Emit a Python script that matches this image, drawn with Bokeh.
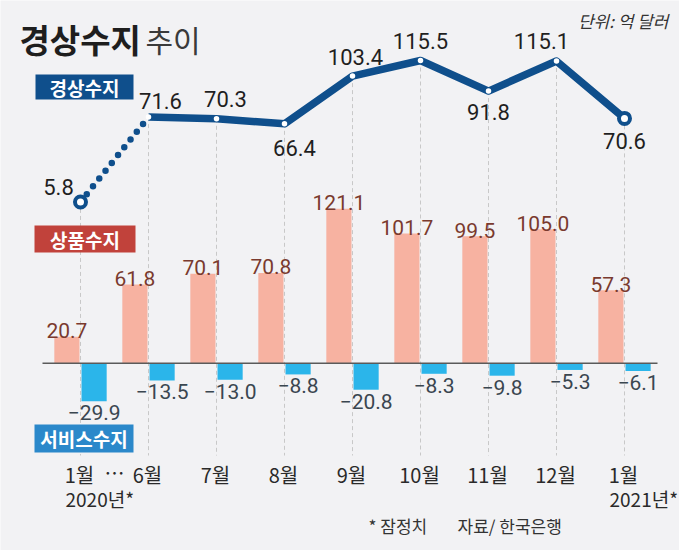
from bokeh.plotting import figure
from bokeh.models import Range1d, ColumnDataSource
from bokeh.core.properties import value
from bokeh.embed import file_html
from bokeh.resources import INLINE

# ---- data ----
months = ["1월", "6월", "7월", "8월", "9월", "10월", "11월", "12월", "1월"]
year_labels = ["2020년*", "2021년*"]
current = [5.8, 71.6, 70.3, 66.4, 103.4, 115.5, 91.8, 115.1, 70.6]
goods = [20.7, 61.8, 70.1, 70.8, 121.1, 101.7, 99.5, 105.0, 57.3]
services = [-29.9, -13.5, -13.0, -8.8, -20.8, -8.3, -9.8, -5.3, -6.1]

# ---- style ----
BG = "#f2f2f4"
BLUE = "#0f4f8c"
GOODS = "#f7b2a1"
SERV = "#2bb5ea"
KR = value("Noto Sans CJK KR")
NUM = value("Roboto")

W, H = 679, 550
xs = list(range(len(months)))

p = figure(width=W, height=H, output_backend="svg", toolbar_location=None, tools="",
           x_range=Range1d(-80 / 68, 599 / 68), y_range=Range1d(-146.9, 284.47),
           x_axis_location=None, y_axis_location=None, min_border=0,
           background_fill_color=BG, border_fill_color=BG, outline_line_color=None)
p.grid.visible = False
p.extra_y_ranges = {"line": Range1d(-264.6, 162.06), "ref": Range1d(550, 0)}
p.extra_x_ranges = {"ref": Range1d(0, 679)}

# gridlines from each point of the line down to the month labels
p.segment(x0=xs, x1=xs, y0=current, y1=[-190.9] * len(xs), y_range_name="line",
          line_color="#c8c8c8", line_width=1, line_dash="4 3")

# bars
src = ColumnDataSource(dict(
    xg=[x - 0.2 for x in xs], xs_=[x + 0.2 for x in xs],
    goods=goods, services=services,
    gl=[f"{v:.1f}" for v in goods],
    sl=["\u2212" + f"{abs(v):.1f}" for v in services],
))
p.vbar(x="xg", top="goods", bottom=0, width=0.37, source=src, fill_color=GOODS, line_color=None)
p.vbar(x="xs_", top="services", bottom=0, width=0.37, source=src, fill_color=SERV, line_color=None)

# baseline
p.segment(x0=[42], x1=[657], y0=[0], y1=[0], x_range_name="ref", line_color="#5a5a5a", line_width=1.5)

# bar labels
p.text(x="xg", y="goods", text="gl", source=src, text_font=NUM, text_font_size="21px",
       text_color="#7a3a2e", text_align="center", text_baseline="alphabetic", y_offset=-6)
p.text(x="xs_", y="services", text="sl", source=src, text_font=NUM, text_font_size="21px",
       text_color="#3a4650", text_align="center", text_baseline="top", y_offset=4)

# current account line
p.line(x=xs[:2], y=current[:2], y_range_name="line", line_color=BLUE, line_width=6.5,
       line_dash="0 10", line_cap="round")
p.line(x=xs[1:], y=current[1:], y_range_name="line", line_color=BLUE, line_width=7.5,
       line_join="round")
p.scatter(x=xs[1:-1], y=current[1:-1], y_range_name="line", size=5.5,
          fill_color="white", line_color=None)
p.scatter(x=[xs[0], xs[-1]], y=[current[0], current[-1]], y_range_name="line", size=11,
          fill_color="white", line_color=BLUE, line_width=4)

# line labels (screen offsets from each point)
dx = [-22, 12, 9, 10, 3, 0, 0, -15, 0]
dy = [-15, -16, -20, 24, -19, -20, 21, -20, 23]
lsrc = ColumnDataSource(dict(x=xs, y=current, t=[f"{v:.1f}" for v in current], dx=dx, dy=dy))
p.text(x="x", y="y", text="t", source=lsrc, y_range_name="line", x_offset="dx", y_offset="dy",
       text_font=NUM, text_font_size="22px", text_color="#1f1f1f",
       text_align="center", text_baseline="middle")

# month labels
p.text(x=xs, y=[474] * len(xs), text=months, y_range_name="ref", text_font=KR,
       text_font_size="20px", text_color="#2a2a2a", text_align="center", text_baseline="middle",
       x_offset=-1)
p.text(x=[0.5], y=[472], text=["\u2026"], y_range_name="ref", text_font=KR,
       text_font_size="20px", text_color="#2a2a2a", text_align="center", text_baseline="middle")
p.text(x=[xs[0], xs[-1]], y=[498, 498], text=year_labels, y_range_name="ref", text_font=KR,
       text_font_size="19px", text_color="#2a2a2a", text_align="left", text_baseline="middle",
       x_offset=-15)

# series tags
tags = ["경상수지", "상품수지", "서비스수지"]
tag_colors = [BLUE, "#c1423b", "#2b88ca"]
tl = [35, 34, 34]
tr = [133, 135, 133]
tt = [74, 225, 424]
tb = [99, 252, 452]
p.quad(left=tl, right=tr, top=tt, bottom=tb, x_range_name="ref", y_range_name="ref",
       fill_color=tag_colors, line_color=None)
p.text(x=[(a + b) / 2 for a, b in zip(tl, tr)], y=[(a + b) / 2 for a, b in zip(tt, tb)],
       text=tags, x_range_name="ref", y_range_name="ref", text_font=KR, text_font_size="19px",
       text_font_style="bold", text_color="white", text_align="center", text_baseline="middle")

# title and notes
p.text(x=[19], y=[38], text=["경상수지"], x_range_name="ref", y_range_name="ref", text_font=KR,
       text_font_size="33px", text_font_style="bold", text_color="#1e1e1e", text_baseline="middle")
p.text(x=[145], y=[38], text=["추이"], x_range_name="ref", y_range_name="ref", text_font=KR,
       text_font_size="30px", text_color="#3a3a3a", text_baseline="middle")
p.text(x=[668], y=[20], text=["단위: 억 달러"], x_range_name="ref", y_range_name="ref", text_font=KR,
       text_font_size="17px", text_font_style="italic", text_color="#333333",
       text_align="right", text_baseline="middle")
p.text(x=[368, 457], y=[525, 525], text=["* 잠정치", "자료/ 한국은행"], x_range_name="ref",
       y_range_name="ref", text_font=KR, text_font_size="17px", text_color="#333333",
       text_align="left", text_baseline="middle")

open("out.html", "w").write(file_html(p, INLINE))
